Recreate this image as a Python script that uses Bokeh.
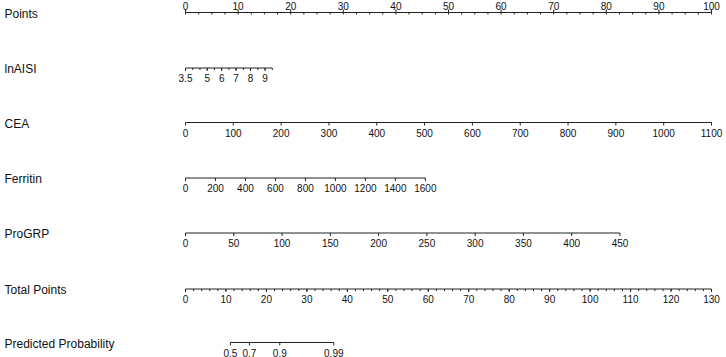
from bokeh.plotting import figure
from bokeh.models import Range1d, ColumnDataSource
from bokeh.embed import file_html
from bokeh.resources import INLINE
from bokeh.core.properties import value

# ---------------- data ----------------
row_names = ["Points", "lnAISI", "CEA", "Ferritin", "ProGRP", "Total Points", "Predicted Probability"]

points_major = [0, 10, 20, 30, 40, 50, 60, 70, 80, 90, 100]
points_minor = [i * 2.5 for i in range(41)]

inaisi_labels = ["3.5", "5", "6", "7", "8", "9"]
inaisi_label_values = [3.5, 5, 6, 7, 8, 9]
inaisi_tick_values = [3.5 + 0.5 * i for i in range(13)]
inaisi_range = [3.5, 9.5]
inaisi_points_range = [0, 16.5]

cea_values = [0, 100, 200, 300, 400, 500, 600, 700, 800, 900, 1000, 1100]
cea_range = [0, 1100]
cea_points_range = [0, 100]

ferritin_values = [0, 200, 400, 600, 800, 1000, 1200, 1400, 1600]
ferritin_range = [0, 1600]
ferritin_points_range = [0, 45.6]

progrp_values = [0, 50, 100, 150, 200, 250, 300, 350, 400, 450]
progrp_range = [0, 450]
progrp_points_range = [0, 82.6]

total_major = [0, 10, 20, 30, 40, 50, 60, 70, 80, 90, 100, 110, 120, 130]
total_minor = [2 * i for i in range(66)]
total_max = 130

prob_labels = ["0.5", "0.7", "0.9", "0.99"]
prob_total_points = [11.1, 15.8, 23.3, 36.65]

# ---------------- layout / style ----------------
W, H = 726, 357
x0_px, x100_px = 185, 711
ppp = (x100_px - x0_px) / 100.0
row_y = [12, 67.5, 122, 177.5, 232.5, 288.5, 342]
line_color = "#222222"
text_color = "#111111"
font = value("Liberation Sans")
row_font_size = "12px"
tick_font_size = "10px"

p = figure(width=W, height=H, output_backend="svg", toolbar_location=None,
           x_range=Range1d(-x0_px / ppp, (W - x0_px) / ppp),
           y_range=Range1d(H, 0), min_border=0)
p.axis.visible = False
p.grid.visible = False
p.outline_line_color = None
p.background_fill_color = "white"
p.border_fill_color = "white"

def lin(v, vr, pr):
    return pr[0] + (v - vr[0]) * (pr[1] - pr[0]) / (vr[1] - vr[0])

def draw_axis(y, x_start, x_end, major_x, major_labels, minor_x=None, above=False,
              major_len=3, minor_len=2):
    p.segment(x0=[x_start], y0=[y], x1=[x_end], y1=[y], line_color=line_color, line_width=1)
    if minor_x:
        p.segment(x0=minor_x, y0=[y] * len(minor_x), x1=minor_x, y1=[y + minor_len] * len(minor_x),
                  line_color=line_color, line_width=1)
    d = -major_len if above else major_len
    p.segment(x0=major_x, y0=[y] * len(major_x), x1=major_x, y1=[y + d] * len(major_x),
              line_color=line_color, line_width=1)
    ly = y - 7 if above else y + 10
    src = ColumnDataSource(dict(x=major_x, y=[ly] * len(major_x), t=major_labels))
    p.text(x="x", y="y", text="t", source=src, text_font=font, text_font_size=tick_font_size,
           text_align="center", text_baseline="middle", text_color=text_color)

# row labels
lab_x = p.x_range.start + 4 / ppp
p.text(x=[lab_x] * len(row_names), y=[y + 1 for y in row_y], text=row_names,
       text_font=font, text_font_size=row_font_size, text_align="left",
       text_baseline="middle", text_color=text_color)

# Points
draw_axis(row_y[0], 0, 100, points_major, [str(v) for v in points_major],
          minor_x=points_minor, above=True)

# lnAISI
draw_axis(row_y[1], lin(inaisi_range[0], inaisi_range, inaisi_points_range),
          lin(inaisi_range[1], inaisi_range, inaisi_points_range),
          [lin(v, inaisi_range, inaisi_points_range) for v in inaisi_label_values], inaisi_labels,
          minor_x=[lin(v, inaisi_range, inaisi_points_range) for v in inaisi_tick_values])

# CEA
draw_axis(row_y[2], 0, lin(cea_range[1], cea_range, cea_points_range),
          [lin(v, cea_range, cea_points_range) for v in cea_values], [str(v) for v in cea_values])

# Ferritin
draw_axis(row_y[3], 0, lin(ferritin_range[1], ferritin_range, ferritin_points_range),
          [lin(v, ferritin_range, ferritin_points_range) for v in ferritin_values],
          [str(v) for v in ferritin_values])

# ProGRP
draw_axis(row_y[4], 0, lin(progrp_range[1], progrp_range, progrp_points_range),
          [lin(v, progrp_range, progrp_points_range) for v in progrp_values],
          [str(v) for v in progrp_values])

# Total points
tp = lambda v: v * 100.0 / total_max
draw_axis(row_y[5], 0, 100, [tp(v) for v in total_major], [str(v) for v in total_major],
          minor_x=[tp(v) for v in total_minor])

# Predicted probability
px = [tp(v) for v in prob_total_points]
draw_axis(row_y[6], px[0], px[-1], px, prob_labels)

open("out.html", "w").write(file_html(p, INLINE))
